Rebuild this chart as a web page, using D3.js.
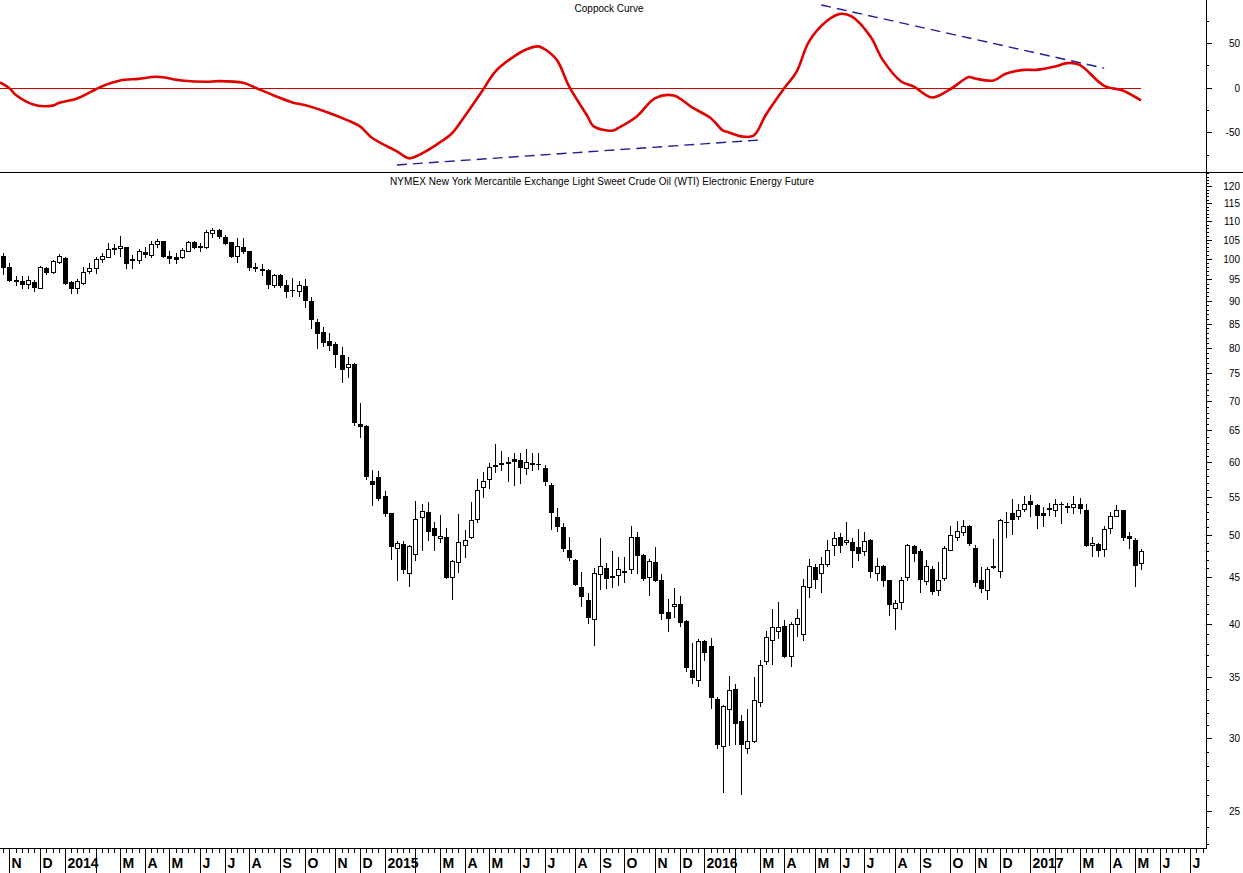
<!DOCTYPE html>
<html><head><meta charset="utf-8">
<script src="https://cdn.jsdelivr.net/npm/d3@7"></script>
<style>
html,body{margin:0;padding:0;background:#fff;}
svg{display:block;font-family:"Liberation Sans",Arial,sans-serif;}
</style></head><body>
<svg id="chart" width="1243" height="873"></svg>
<script>
// ---------- DATA (weekly bars, first bar = week of 25 Oct 2013) ----------
const firstWeek = new Date(2013, 9, 25);
const opens = [100.8,98.0,94.9,94.6,93.9,94.4,92.9,97.7,96.7,99.3,100.3,94.4,92.9,94.2,97.1,97.7,100.1,100.6,102.7,102.9,103.0,100.0,99.7,101.7,101.1,103.7,104.6,100.8,100.6,100.4,102.1,104.4,103.0,103.0,106.8,107.6,105.6,104.3,100.8,103.0,102.0,97.9,97.5,97.3,93.6,96.1,93.7,92.5,92.3,93.4,90.0,85.3,83.3,81.4,80.8,78.6,76.2,76.8,66.0,65.7,57.3,57.8,55.2,52.8,48.4,48.9,45.5,47.7,52.3,53.0,50.9,49.6,49.7,45.0,46.7,48.7,49.7,52.0,56.4,57.5,59.5,59.7,59.9,60.5,60.4,59.2,59.9,59.8,59.1,56.7,52.3,51.0,48.1,47.0,43.9,42.5,40.5,45.3,46.0,45.0,45.2,45.6,45.9,49.7,47.6,45.0,46.7,44.7,41.2,41.8,42.0,40.3,35.6,34.7,38.3,37.8,33.1,29.4,32.3,34.0,31.3,29.3,29.8,32.9,36.4,38.4,39.3,39.8,36.9,40.0,39.0,43.9,46.1,45.4,46.5,48.7,49.7,49.1,49.1,48.5,48.0,49.4,45.4,46.3,44.6,41.6,42.3,45.0,48.6,48.0,44.5,45.9,43.5,44.9,48.2,49.8,50.4,51.1,48.4,44.7,43.5,46.1,45.7,51.7,52.8,52.4,53.4,54.5,53.9,52.8,53.4,53.3,54.1,53.8,53.7,54.1,53.3,48.7,48.9,48.3,50.9,52.5,53.2,49.9,49.4,46.6];
const highs = [101.4,99.1,95.7,95.7,95.8,94.9,98.3,98.1,99.7,101.2,100.4,94.6,95.0,97.9,98.9,100.6,101.4,104.0,103.7,105.8,103.1,101.0,102.5,103.0,104.7,105.1,104.7,102.1,101.4,102.9,104.6,104.6,104.0,107.6,108.0,107.7,106.2,104.4,105.3,105.3,102.1,99.1,98.8,97.4,96.3,96.2,94.9,95.3,94.5,95.0,90.8,86.1,84.2,83.0,81.1,80.1,78.1,77.1,69.6,65.9,58.9,58.7,55.9,52.9,49.3,49.3,48.8,54.5,54.1,54.3,51.7,52.6,50.9,47.0,52.7,50.6,54.3,57.6,58.5,59.9,62.8,61.7,60.8,61.5,61.5,62.0,61.5,61.5,59.6,56.9,53.5,51.5,49.7,47.1,45.6,43.2,46.0,49.6,46.6,48.0,47.3,47.3,51.1,50.4,47.7,47.1,48.5,45.3,42.6,43.8,42.9,40.4,38.1,38.5,38.4,38.6,33.3,32.6,35.1,34.4,31.8,32.3,35.0,36.5,39.3,41.5,42.2,40.4,40.2,41.5,44.8,47.1,46.5,47.3,49.4,50.4,50.2,51.7,49.6,50.7,50.4,49.5,47.2,46.4,44.7,42.5,45.0,48.9,48.7,48.3,47.0,46.2,46.7,48.6,51.2,51.8,51.9,51.3,48.7,46.1,46.1,49.5,52.1,53.0,54.7,54.0,55.2,55.3,54.0,53.7,54.2,54.7,54.3,54.2,55.1,54.9,54.0,49.8,49.0,51.2,53.0,53.9,53.3,50.4,49.6,48.3];
const lows = [96.2,94.5,93.7,92.9,92.9,92.2,92.9,96.3,96.6,98.9,94.0,91.7,91.7,94.0,96.6,96.6,99.2,100.4,101.3,100.8,97.8,97.7,99.1,100.4,100.4,103.1,100.6,99.1,99.1,100.2,102.0,102.7,101.9,102.8,105.6,105.3,103.8,100.6,99.3,101.4,97.3,96.9,96.1,92.9,93.3,93.3,90.8,91.0,91.0,88.6,84.0,80.0,80.3,79.6,76.3,73.5,74.3,65.9,64.0,57.6,53.9,54.6,52.4,47.1,44.6,45.5,44.0,47.0,48.2,49.4,48.1,49.1,44.9,42.6,45.6,47.3,49.6,51.6,55.0,56.2,58.5,58.8,57.3,56.7,57.0,58.2,58.9,59.0,56.7,50.8,50.5,48.0,47.0,44.1,41.8,40.1,37.9,43.7,43.8,43.9,44.1,44.4,45.5,45.5,44.6,43.0,44.5,40.5,39.3,40.7,39.8,35.5,34.5,34.2,36.5,32.4,29.3,26.2,29.5,29.6,26.1,28.9,29.7,32.5,36.2,36.2,38.6,36.8,36.0,38.8,38.4,42.8,43.8,43.3,46.3,47.5,47.9,48.9,46.1,47.0,47.6,45.0,44.7,44.0,40.9,39.5,41.5,44.7,46.8,43.3,44.2,43.1,43.0,44.6,48.1,49.4,50.0,48.7,44.0,43.3,42.6,46.0,45.0,49.8,50.1,52.0,53.1,52.4,50.9,51.1,52.6,52.4,51.5,53.0,52.9,52.8,48.6,47.4,47.4,47.4,50.2,52.4,49.4,48.4,44.0,45.9];
const closes = [98.1,94.9,94.6,93.9,94.9,93.2,97.9,96.7,99.4,100.8,94.2,93.0,94.6,96.7,97.7,99.9,100.8,102.5,102.5,103.2,99.1,99.7,102.0,101.3,103.8,104.5,100.8,100.2,100.1,102.3,104.4,103.0,103.2,107.1,107.6,106.0,104.0,100.8,103.3,102.1,98.1,97.8,97.3,93.8,96.1,93.6,92.3,92.4,93.7,90.1,86.1,83.0,81.2,80.6,78.8,75.9,76.8,66.4,65.8,58.0,56.8,54.9,52.9,48.6,49.0,45.9,48.6,52.0,53.1,50.5,50.0,49.9,45.0,46.8,49.1,49.4,51.9,56.0,57.3,59.3,59.6,59.9,60.1,60.2,59.3,60.1,59.8,59.7,57.2,53.0,51.1,48.4,47.3,44.2,42.9,40.7,45.4,46.3,44.9,45.1,45.9,45.7,49.8,47.5,44.9,46.8,44.6,41.1,40.6,42.0,40.2,35.9,35.0,38.3,37.3,33.3,29.6,32.5,33.9,31.2,29.6,29.8,33.0,36.1,38.7,39.7,39.7,36.9,40.0,40.6,44.0,46.3,44.8,46.5,48.1,49.6,48.8,49.4,48.2,47.8,49.2,45.7,46.3,44.6,42.0,42.1,44.7,48.7,47.8,44.8,46.2,43.4,44.7,48.4,50.0,50.5,51.1,49.0,44.4,43.8,45.9,46.2,51.9,51.6,52.1,53.2,54.0,54.1,52.6,52.6,53.5,54.1,54.0,53.6,54.1,53.5,48.7,49.0,48.2,50.8,52.4,53.3,49.7,49.6,46.4,48.0];

// Coppock curve readings (week index from first bar, value)
const coppockWeeks  = [-0.55,1,2,5,8,9,12,16,19,22,25,29,33,35,39,41,44,47,49,53,56,58,60,64,66,68,71,73,75,78,80,83,85,87,88,90,92,95,96,99,100,103,106,109,112,115,117,118,120,122,124,127,129,131,134,136,138,141,143,146,148,151,154,157,158,161,163,166,168,171,173,175,179,182,185];
const coppockValues = [5.9,-0.5,-7.8,-19,-20,-17,-12,1.5,8.2,10,12.3,8.2,6.7,7.5,5.6,0,-8.6,-16.4,-19.4,-28.3,-36.6,-43.3,-56.3,-71.3,-79.1,-73.8,-61.2,-50.7,-32.1,-2.2,18.2,35,43,46.4,43.5,31.3,1.5,-32.1,-43.3,-48.1,-45,-32.1,-11.5,-8.6,-22,-33.9,-47.8,-50,-54.5,-53.7,-30.2,-0.3,18.2,51.8,75.3,82.8,79.8,57.4,31.3,7,1.5,-10.9,-1.5,12,10.4,8.2,15.7,20.1,20.1,23.8,27.6,25.7,2.2,-3,-14.2];

// Trend lines drawn on the Coppock panel
const supportWeeks = [64, 123];
const supportValues = [-86.5, -58.5];
const resistanceWeeks = [133, 179];
const resistanceValues = [92.8, 22];

// Axis tick labels
const priceTicks = [25,30,35,40,45,50,55,60,65,70,75,80,85,90,95,100,105,110,115,120];
const coppockTicks = [-50, 0, 50];
const coppockMinorTicks = [-75, -25, 25, 75];
const monthLetters = ["J","F","M","A","M","J","J","A","S","O","N","D"];
const coppockTitle = "Coppock Curve";
const priceTitle = "NYMEX New York Mercantile Exchange Light Sweet Crude Oil (WTI) Electronic Energy Future";

// ---------- BUILD ----------
const DAY = 864e5;
const weekDate = w => new Date(firstWeek.getTime() + w * 7 * DAY);
const bars = opens.map((o, i) => ({date: d3.timeDay.offset(firstWeek, 7 * i), open: o, high: highs[i], low: lows[i], close: closes[i]}));

const W = 1243, H = 873;
const axisX = 1206, sepY = 172, bottomY = 848;

const svg = d3.select("#chart");

const x = d3.scaleTime().domain([weekDate(-0.5366), weekDate(195.56)]).range([0, axisX]);
const yP = d3.scaleLog().domain([22.78, 124.4]).range([bottomY, sepY]);
const yC = d3.scaleLinear().domain([-94.4, 98.4]).range([sepY, 0]);

const cx = d => Math.round(x(d)) + 0.5;

// frame lines
svg.append("line").attr("x1", 0).attr("x2", W).attr("y1", sepY + 0.5).attr("y2", sepY + 0.5).attr("stroke", "#000");
svg.append("line").attr("x1", axisX + 0.5).attr("x2", axisX + 0.5).attr("y1", 0).attr("y2", bottomY + 1).attr("stroke", "#000");
svg.append("line").attr("x1", 0).attr("x2", axisX + 1).attr("y1", bottomY + 0.5).attr("y2", bottomY + 0.5).attr("stroke", "#000");

// titles
svg.append("text").attr("x", 609).attr("y", 12).attr("text-anchor", "middle").attr("font-size", 10).text(coppockTitle);
svg.append("text").attr("x", 602).attr("y", 185).attr("text-anchor", "middle").attr("font-size", 10).attr("textLength", 424).text(priceTitle);

// ---------- Coppock panel ----------
const clip = svg.append("clipPath").attr("id", "copclip").append("rect").attr("x", 0).attr("y", 0).attr("width", axisX).attr("height", sepY);
const cp = svg.append("g").attr("clip-path", "url(#copclip)");

cp.append("line").attr("x1", 0).attr("x2", x(weekDate(185))).attr("y1", Math.round(yC(0)) + 0.5).attr("y2", Math.round(yC(0)) + 0.5)
  .attr("stroke", "#d40000").attr("stroke-width", 1);

const dashLine = d3.line().x(d => x(weekDate(d[0]))).y(d => yC(d[1]));
cp.append("path").datum(supportWeeks.map((w, i) => [w, supportValues[i]]))
  .attr("d", dashLine).attr("fill", "none").attr("stroke", "#1f1f9a").attr("stroke-width", 1.4).attr("stroke-dasharray", "10,6");
cp.append("path").datum(resistanceWeeks.map((w, i) => [w, resistanceValues[i]]))
  .attr("d", dashLine).attr("fill", "none").attr("stroke", "#1f1f9a").attr("stroke-width", 1.4).attr("stroke-dasharray", "10,6");

const copLine = d3.line().x(d => x(weekDate(d[0]))).y(d => yC(d[1])).curve(d3.curveCatmullRom.alpha(0.5));
cp.append("path").datum(coppockWeeks.map((w, i) => [w, coppockValues[i]]))
  .attr("d", copLine).attr("fill", "none").attr("stroke", "#e00000").attr("stroke-width", 2.6).attr("stroke-linejoin", "round");

// Coppock axis
const cAx = svg.append("g");
coppockTicks.forEach(t => {
  const yy = Math.round(yC(t)) + 0.5;
  cAx.append("line").attr("x1", axisX).attr("x2", axisX + 6).attr("y1", yy).attr("y2", yy).attr("stroke", "#000");
  cAx.append("text").attr("x", 1240).attr("y", yy).attr("dy", "0.35em").attr("text-anchor", "end").attr("font-size", 10).text(t);
});
coppockMinorTicks.forEach(t => {
  const yy = Math.round(yC(t)) + 0.5;
  cAx.append("line").attr("x1", axisX).attr("x2", axisX + 3).attr("y1", yy).attr("y2", yy).attr("stroke", "#000");
});

// ---------- Price panel ----------
const pAx = svg.append("g");
for (let p = 23; p <= 124; p++) {
  const yy = Math.round(yP(p)) + 0.5;
  const major = priceTicks.includes(p);
  pAx.append("line").attr("x1", axisX).attr("x2", axisX + (major ? 6 : 3)).attr("y1", yy).attr("y2", yy).attr("stroke", "#000");
}
priceTicks.forEach(t => {
  pAx.append("text").attr("x", 1240).attr("y", Math.round(yP(t)) + 0.5).attr("dy", "0.35em").attr("text-anchor", "end").attr("font-size", 10).text(t);
});

// candles
const cg = svg.append("g");
bars.forEach(b => {
  const xc = cx(b.date);
  cg.append("line").attr("x1", xc).attr("x2", xc).attr("y1", Math.round(yP(b.high))).attr("y2", Math.round(yP(b.low)) + 1)
    .attr("stroke", "#000").attr("stroke-width", 1);
  const top = Math.round(yP(Math.max(b.open, b.close)));
  const bot = Math.round(yP(Math.min(b.open, b.close)));
  const up = b.close >= b.open;
  if (bot - top < 2) {
    cg.append("rect").attr("x", xc - 2.5).attr("y", top).attr("width", 5).attr("height", Math.max(1, bot - top + 1)).attr("fill", "#000");
  } else {
    cg.append("rect").attr("x", xc - 2).attr("y", top + 0.5).attr("width", 4).attr("height", bot - top)
      .attr("fill", up ? "#fff" : "#000").attr("stroke", "#000").attr("stroke-width", 1);
  }
});

// ---------- Time axis ----------
const tg = svg.append("g");
const months = d3.timeMonth.range(new Date(2013, 10, 1), new Date(2017, 7, 1));
const monthBars = months.map(m => d3.timeFriday.ceil(m));
const monthKeys = new Set(monthBars.map(d => +d3.timeDay.floor(d)));
for (let i = 0; i < 196; i++) {
  const d = d3.timeDay.offset(firstWeek, 7 * i);
  if (monthKeys.has(+d3.timeDay.floor(d))) continue;
  const xx = cx(d);
  tg.append("line").attr("x1", xx).attr("x2", xx).attr("y1", bottomY).attr("y2", bottomY + 5).attr("stroke", "#000");
}
months.forEach((m, i) => {
  const xx = cx(monthBars[i]);
  tg.append("line").attr("x1", xx).attr("x2", xx).attr("y1", bottomY).attr("y2", H).attr("stroke", "#000");
  if (m.getMonth() === 1) return;
  const label = m.getMonth() === 0 ? String(m.getFullYear()) : monthLetters[m.getMonth()];
  tg.append("text").attr("x", xx + 2).attr("y", 868).attr("font-size", 14).attr("font-weight", "bold").text(label);
});
</script>
</body></html>
